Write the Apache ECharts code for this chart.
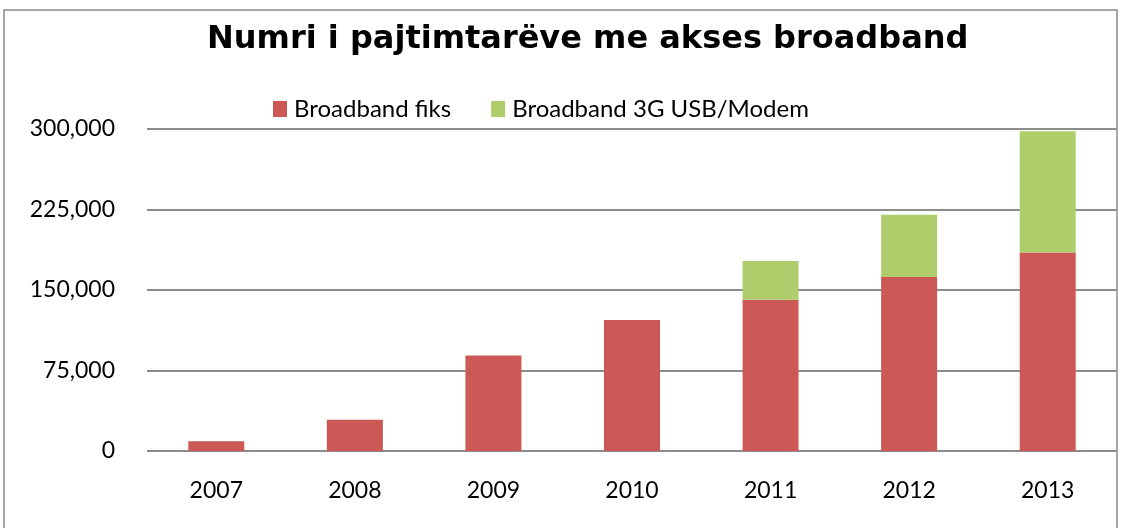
<!DOCTYPE html>
<html lang="sq">
<head>
    <meta charset="UTF-8">
    <title>Numri i pajtimtarëve me akses broadband</title>
    <script src="https://cdn.jsdelivr.net/npm/echarts/dist/echarts.min.js"></script>
    <style>
        html, body { margin: 0; padding: 0; background: #fff; }
        #chart-container { width: 1126px; height: 528px; }
    </style>
</head>
<body>
    <div id="chart-container"></div>
    <script>
        var years = ['2007', '2008', '2009', '2010', '2011', '2012', '2013'];
        var fiks = [9000, 29000, 89000, 122000, 141000, 162000, 185000];
        var usb3g = [null, null, null, null, 36000, 58000, 113000];
        var seriesNames = ['Broadband fiks', 'Broadband 3G USB/Modem'];

        var chart = echarts.init(document.getElementById('chart-container'));
        var option = {
            backgroundColor: '#fff',
            graphic: [{
                type: 'rect',
                shape: { x: 4, y: 10, width: 1113, height: 530 },
                style: { fill: 'none', stroke: '#8a8a8a', lineWidth: 1.5 },
                silent: true
            }],
            title: {
                text: 'Numri i pajtimtarëve me akses broadband',
                left: 202,
                top: 19,
                textStyle: {
                    fontFamily: 'DejaVu Sans',
                    fontWeight: 'bold',
                    fontSize: 32,
                    color: '#000'
                }
            },
            legend: {
                data: seriesNames,
                top: 92,
                left: 268,
                itemWidth: 14,
                itemHeight: 16,
                itemGap: 40,
                icon: 'rect',
                textStyle: { fontFamily: 'Lato', fontSize: 24, color: '#000', padding: [0, 0, 0, 2] }
            },
            grid: { left: 147, right: 9, top: 129, bottom: 77 },
            xAxis: {
                type: 'category',
                data: years,
                axisLine: { show: false },
                axisTick: { show: false },
                axisLabel: { fontFamily: 'Lato', fontSize: 23, color: '#000', margin: 28 }
            },
            yAxis: {
                type: 'value',
                min: 0,
                max: 300000,
                interval: 75000,
                axisLine: { show: false },
                axisTick: { show: false },
                axisLabel: {
                    fontFamily: 'Lato', fontSize: 23, color: '#000', margin: 32,
                    formatter: function (v) { return v.toLocaleString('en-US'); }
                },
                splitLine: { lineStyle: { color: '#8c8c8c', width: 2 } }
            },
            series: [{
                name: seriesNames[0],
                type: 'bar',
                stack: 'total',
                barWidth: 56,
                data: fiks,
                itemStyle: { color: '#cc5955' }
            }, {
                name: seriesNames[1],
                type: 'bar',
                stack: 'total',
                barWidth: 56,
                data: usb3g,
                itemStyle: { color: '#afcd6b' }
            }]
        };
        chart.setOption(option);
    </script>
</body>
</html>
